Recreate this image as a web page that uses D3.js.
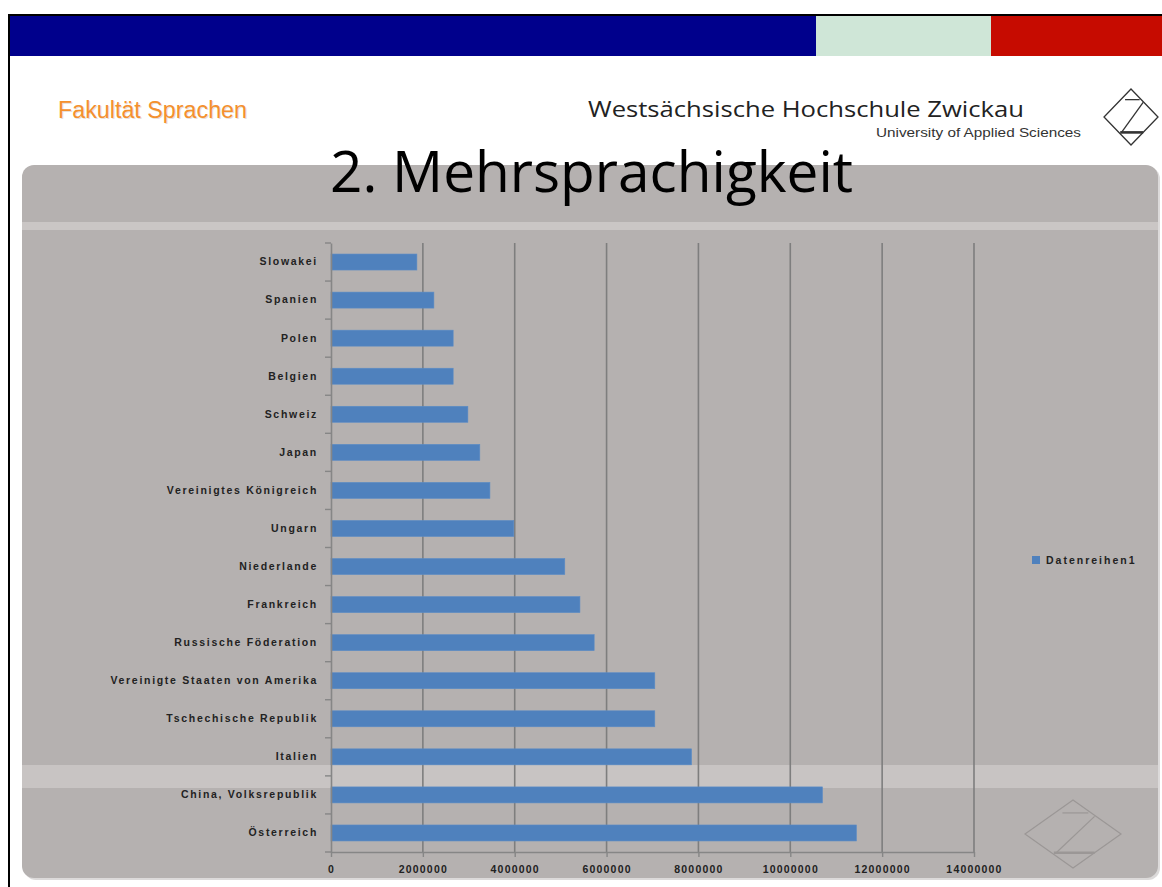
<!DOCTYPE html>
<html><head><meta charset="utf-8">
<script src="https://cdn.jsdelivr.net/npm/d3@7"></script>
<style>html,body{margin:0;padding:0;background:#fff;}svg{display:block;}</style>
</head><body>
<svg id="c" width="1162" height="887"></svg>
<script>
const categories = ["Slowakei","Spanien","Polen","Belgien","Schweiz","Japan","Vereinigtes Königreich","Ungarn","Niederlande","Frankreich","Russische Föderation","Vereinigte Staaten von Amerika","Tschechische Republik","Italien","China, Volksrepublik","Österreich"];
const values = [1870000,2240000,2660000,2660000,2980000,3240000,3460000,3980000,5090000,5420000,5730000,7050000,7050000,7850000,10700000,11440000];
const xTicks = [0,2000000,4000000,6000000,8000000,10000000,12000000,14000000];
const seriesName = "Datenreihen1";
const titleText = "2. Mehrsprachigkeit";
const facultyText = "Fakultät Sprachen";
const uniText = "Westsächsische Hochschule Zwickau";
const uniSub = "University of Applied Sciences";

const svg = d3.select("#c");

// slide frame
svg.append("rect").attr("x",0).attr("y",0).attr("width",1162).attr("height",887).attr("fill","#fff");
svg.append("line").attr("x1",8).attr("x2",1162).attr("y1",15).attr("y2",15).attr("stroke","#000").attr("stroke-width",2);
svg.append("line").attr("x1",9).attr("x2",9).attr("y1",14).attr("y2",887).attr("stroke","#000").attr("stroke-width",2);

// top color bar
svg.append("rect").attr("x",10).attr("y",16).attr("width",806).attr("height",40).attr("fill","#00008C");
svg.append("rect").attr("x",816).attr("y",16).attr("width",175).attr("height",40).attr("fill","#CFE6D7");
svg.append("rect").attr("x",991).attr("y",16).attr("width",171).attr("height",40).attr("fill","#C60B00");

// header texts
svg.append("text").attr("x",59).attr("y",119).attr("fill","#e8e0d8").attr("font-family","Liberation Sans Narrow, Liberation Sans, Arial").attr("font-size",23)
  .attr("textLength",189).attr("lengthAdjust","spacingAndGlyphs").text(facultyText);
svg.append("text").attr("x",58).attr("y",118).attr("fill","#F4902E").attr("font-family","Liberation Sans Narrow, Liberation Sans, Arial").attr("font-size",23)
  .attr("textLength",189).attr("lengthAdjust","spacingAndGlyphs").text(facultyText);
svg.append("text").attr("x",588).attr("y",117).attr("fill","#222").attr("font-family","Open Sans, Noto Sans, sans-serif").attr("font-size",22)
  .attr("textLength",436).attr("lengthAdjust","spacingAndGlyphs").text(uniText);
svg.append("text").attr("x",876).attr("y",137).attr("fill","#333").attr("font-family","Liberation Sans Narrow, Liberation Sans, Arial").attr("font-size",12.5)
  .attr("textLength",205).attr("lengthAdjust","spacingAndGlyphs").text(uniSub);

// logo
function logo(g, cx, cy, hw, hh, color, w) {
  const pts = [[cx,cy-hh],[cx+hw,cy],[cx,cy+hh],[cx-hw,cy]];
  g.append("polygon").attr("points",pts.map(p=>p.join(",")).join(" ")).attr("fill","none").attr("stroke",color).attr("stroke-width",w);
  const L = (x1,y1,x2,y2,sw)=>g.append("line").attr("x1",cx+x1*hw).attr("y1",cy+y1*hh).attr("x2",cx+x2*hw).attr("y2",cy+y2*hh).attr("stroke",color).attr("stroke-width",sw);
  L(-0.22,-0.62,0.32,-0.62,w);
  L(0.45,-0.52,-0.35,0.55,w);
  L(-0.4,0.55,0.45,0.55,w*2);
}
logo(svg.append("g"), 1131, 117, 27, 28, "#333", 1.3);

// gray panel
svg.append("rect").attr("x",24).attr("y",167).attr("width",1136).attr("height",713).attr("rx",12).attr("fill","#dcdada");
svg.append("rect").attr("x",22).attr("y",165).attr("width",1136).attr("height",713).attr("rx",12).attr("fill","#B5B1B0");
svg.append("rect").attr("x",22).attr("y",222).attr("width",1136).attr("height",8).attr("fill","#CAC6C5");
svg.append("rect").attr("x",22).attr("y",765).attr("width",1136).attr("height",23).attr("fill","#C8C4C3");

// watermark logo
logo(svg.append("g"), 1073, 834, 48, 34, "#9b9796", 1.2);

// title
svg.append("text").attr("x",330).attr("y",192).attr("fill","#000").attr("font-family","Open Sans, Noto Sans, sans-serif").attr("font-size",57)
  .attr("textLength",523).attr("lengthAdjust","spacingAndGlyphs").text(titleText);

// scales
const x = d3.scaleLinear().domain([0,14000000]).range([331,974]);
const y = d3.scaleBand().domain(categories).range([243,852]).paddingInner(0.58).paddingOuter(0.29);

// gridlines
svg.append("g").selectAll("line").data(xTicks.filter(d=>d>0)).join("line")
  .attr("x1",d=>x(d)).attr("x2",d=>x(d)).attr("y1",243).attr("y2",852)
  .attr("stroke","#7e7e7e").attr("stroke-width",1.6);

// bars
svg.append("g").selectAll("rect").data(categories).join("rect")
  .attr("x",x(0)).attr("y",d=>y(d)).attr("height",y.bandwidth())
  .attr("width",(d,i)=>x(values[i])-x(0)).attr("fill","#4F81BD").attr("stroke","#5b8cc6").attr("stroke-width",0.6);

// left axis
const gy = svg.append("g").attr("transform","translate(331,0)").call(d3.axisLeft(y).tickSize(0).tickPadding(13));
gy.select(".domain").attr("stroke","#868686").attr("stroke-width",1.6);
gy.selectAll("text").attr("font-family","Liberation Sans, Arial").attr("font-size",10.5).attr("font-weight","bold").attr("fill","#222").attr("letter-spacing",1.7);
svg.append("g").selectAll("line").data(d3.range(categories.length+1)).join("line")
  .attr("x1",325).attr("x2",331).attr("y1",i=>y.range()[0]+i*y.step()).attr("y2",i=>y.range()[0]+i*y.step())
  .attr("stroke","#868686").attr("stroke-width",1.4);

// bottom axis
const gx = svg.append("g").attr("transform","translate(0,852)").call(d3.axisBottom(x).tickValues(xTicks).tickFormat(d=>String(d)).tickSize(5).tickSizeOuter(0).tickPadding(9));
gx.select(".domain").attr("stroke","#868686").attr("stroke-width",1.6);
gx.selectAll(".tick line").attr("stroke","#868686").attr("stroke-width",1.4);
gx.selectAll("text").attr("font-family","Liberation Sans, Arial").attr("font-size",10.5).attr("font-weight","bold").attr("fill","#222").attr("letter-spacing",1.2);

// legend
svg.append("rect").attr("x",1032).attr("y",556).attr("width",8).attr("height",8).attr("fill","#4F81BD");
svg.append("text").attr("x",1046).attr("y",564).attr("font-family","Liberation Sans, Arial").attr("font-size",10.5).attr("font-weight","bold").attr("fill","#222").attr("letter-spacing",2).text(seriesName);
</script>
</body></html>
